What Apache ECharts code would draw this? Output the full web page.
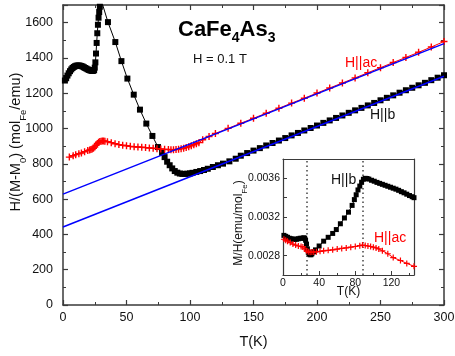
<!DOCTYPE html>
<html>
<head>
<meta charset="utf-8">
<script src="https://cdn.jsdelivr.net/npm/echarts@6/dist/echarts.min.js"></script>
<style>
  html, body { margin: 0; padding: 0; background: #fff; }
  #chart { width: 455px; height: 356px; }
</style>
</head>
<body>
<div id="chart"></div>
<script>
// main panel, H||b (black squares)
const hbMainT = [1.5, 2.5, 3.5, 4.5, 5.5, 6.5, 7.5, 8.5, 9.5, 10.5, 11.5, 12.5, 13.5, 14.5, 15.5, 16.5, 17.5, 18.5, 19.5, 20.5, 21.5, 22.5, 23.5, 24.5, 25, 25.5, 26, 26.5, 27, 27.5, 28, 28.5, 29, 29.5, 30,
  35.4, 41.2, 46, 50.7, 55.7, 60.6, 65.6, 70.4, 74.8, 78, 80, 82, 84, 86, 88, 90, 92, 94, 96, 98, 100, 102, 105, 108, 111, 114, 118, 122, 126, 131, 136,
  140, 145, 150, 155, 160, 165, 170, 175, 180, 185, 190, 195, 200, 205, 210, 215, 220, 225, 230, 235, 240, 245, 250, 255, 260, 265, 270, 275, 280, 285, 290, 295, 300];
const hbMainV = [1272, 1285, 1300, 1313, 1325, 1335, 1343, 1349, 1353, 1356, 1357, 1357, 1356, 1354, 1351, 1347, 1343, 1339, 1335, 1332, 1329, 1327, 1326, 1330, 1345, 1375, 1425, 1485, 1540, 1588, 1628, 1660, 1690, 1712, 1730,
  1603, 1490, 1382, 1283, 1192, 1107, 1028, 958, 895, 862, 838, 812, 792, 774, 759, 750, 745, 743, 743, 744, 746, 749, 754, 759, 765, 772, 782, 792, 801, 814, 829,
  846, 861, 875, 889, 904, 918, 932, 946, 961, 975, 989, 1003, 1017, 1032, 1046, 1060, 1074, 1089, 1103, 1117, 1131, 1145, 1160, 1174, 1188, 1203, 1217, 1231, 1245, 1259, 1274, 1288, 1302];

// main panel, H||ac (red crosses)
const acMainT = [5, 8, 10, 12.5, 14.5, 17, 19.5, 21, 22, 23, 24, 25, 26, 27, 28, 29, 30, 31, 32, 33, 35, 38, 41, 44, 47, 50, 53, 56, 59, 62, 65, 68, 71, 74, 77, 80, 83, 85, 87, 89, 91, 93, 95, 97, 99, 101, 103, 105, 107, 110, 115,
  120, 130, 140, 150, 160, 170, 180, 190, 200, 210, 220, 230, 240, 250, 260, 270, 280, 290, 300];
const acMainV = [838, 846, 852, 857, 861, 868, 875, 879, 881, 884, 888, 895, 905, 915, 922, 926, 928, 929, 929, 928, 925, 920, 914, 909, 905, 902, 899, 897, 895, 894, 892, 890, 888, 886, 884, 882, 881, 880, 880, 881, 883, 885, 888, 892, 897, 902, 908, 914, 920, 936, 955,
  972, 1001, 1030, 1058, 1087, 1115, 1144, 1172, 1201, 1230, 1258, 1287, 1316, 1345, 1374, 1403, 1432, 1462, 1493];

// Curie-Weiss fit lines (blue)
const fitT = [0, 300];
const fitB = [442, 1296];
const fitAc = [628, 1481];

// inset: M/H
const hbInT = [1, 3, 5, 7, 9, 11, 13, 15, 17, 19, 21, 23, 24, 25, 26, 27, 28, 29, 30, 31, 32, 34, 36,
  40, 45, 50, 55, 59, 63.5, 68, 72.5, 76.5, 79, 81, 83, 85, 87, 89, 91, 93, 95, 98, 101, 104, 107, 110, 113, 116, 119, 122, 125, 128, 131, 134, 137, 140, 143, 145];
const hbInV = [0.00301, 0.0030, 0.00299, 0.00298, 0.002975, 0.00297, 0.00297, 0.00297, 0.002975, 0.00298, 0.00298, 0.002985, 0.00298, 0.00296, 0.00292, 0.00287, 0.002835, 0.00282, 0.00281, 0.00281, 0.00282, 0.00284, 0.00286,
  0.00290, 0.00295, 0.00299, 0.00303, 0.00307, 0.00313, 0.00319, 0.00325, 0.00332, 0.00338, 0.00343, 0.00348, 0.00352, 0.00356, 0.00359, 0.0036, 0.003598, 0.003592, 0.00358, 0.00357, 0.003558, 0.003548, 0.003538, 0.003528, 0.003518, 0.003508, 0.003498, 0.003488, 0.003476, 0.003462, 0.00345, 0.003436, 0.003422, 0.00341, 0.0034];
const acInT = [1, 3, 5, 8, 11, 14, 17, 20, 22, 24, 26, 28, 30, 32, 34, 37, 41, 45, 50, 55, 60, 65, 70, 75, 80, 85, 88, 91, 94, 97, 100, 103, 106, 110, 116, 122, 130, 137, 145];
const acInV = [0.00297, 0.00296, 0.00295, 0.002935, 0.00292, 0.00291, 0.0029, 0.002895, 0.00289, 0.00287, 0.00285, 0.00284, 0.002835, 0.002838, 0.002838, 0.00284, 0.002845, 0.00285, 0.002855, 0.00286, 0.002868, 0.002875, 0.00288, 0.002888, 0.002895, 0.002903, 0.00291, 0.002905, 0.0029, 0.002895, 0.002888, 0.00288, 0.00287, 0.00285, 0.00282, 0.00278, 0.00275, 0.00272, 0.00269];
const transitionsT = [26, 88];

const font = 'Liberation Sans, Arial, sans-serif';
const axisCol = '#3a3a3a';
const plus = 'path://M4,0h2v4h4v2h-4v4h-2v-4h-4v-2h4z';

const zip = (xs, ys) => xs.map((x, i) => [x, ys[i]]);

function boxAxis(extra) {
  return Object.assign({
    type: 'value',
    axisLine: { onZero: false, lineStyle: { color: axisCol, width: 1.5 } },
    axisTick: { inside: true, length: 5, lineStyle: { color: axisCol, width: 1.2 } },
    minorTick: { show: true, splitNumber: 2, length: 3, lineStyle: { color: axisCol, width: 1 } },
    splitLine: { show: false },
    axisLabel: { show: false }
  }, extra);
}

// rotated y titles with subscripts (rich text)
function yTitle(x, y, text, size, subSize, lh, subLh) {
  return { type: 'text', x: x, y: y, rotation: Math.PI / 2, z: 10, style: {
    text: text, align: 'center', verticalAlign: 'middle',
    rich: {
      n: { fontSize: size, fontFamily: font, fill: '#111', lineHeight: lh, verticalAlign: 'top' },
      s: { fontSize: subSize, fontFamily: font, fill: '#111', lineHeight: subLh, verticalAlign: 'bottom' }
    } } };
}

const chart = echarts.init(document.getElementById('chart'));
const option = {
  animation: false,
  backgroundColor: '#fff',
  grid: [
    { left: 63, right: 11, top: 5, bottom: 51, containLabel: false, outerBoundsMode: 'none' },
    { left: 283, top: 159, width: 131, height: 116, containLabel: false, outerBoundsMode: 'none',
      show: true, backgroundColor: '#fff', borderWidth: 0, z: 5 }
  ],
  xAxis: [
    boxAxis({ gridIndex: 0, position: 'bottom', min: 0, max: 300, interval: 50,
      axisLabel: { show: true, fontSize: 12.5, color: '#111', fontFamily: font, margin: 6, formatter: v => String(v) },
      name: 'T(K)', nameLocation: 'middle', nameGap: 29, nameMoveOverlap: false,
      nameTextStyle: { fontSize: 14.5, color: '#111', fontFamily: font } }),
    boxAxis({ gridIndex: 0, position: 'top', min: 0, max: 300, interval: 50 }),
    boxAxis({ gridIndex: 1, position: 'bottom', min: 0, max: 145, interval: 40, z: 6,
      axisTick: { inside: true, length: 4, lineStyle: { color: axisCol, width: 1 } },
      minorTick: { show: true, splitNumber: 2, length: 2, lineStyle: { color: axisCol } },
      axisLine: { onZero: false, lineStyle: { color: axisCol, width: 1.2 } },
      axisLabel: { show: true, showMaxLabel: false, fontSize: 10.5, color: '#111', fontFamily: font, margin: 3, formatter: v => String(v) },
      name: 'T(K)', nameLocation: 'middle', nameGap: 11, nameMoveOverlap: false,
      nameTextStyle: { fontSize: 12, color: '#111', fontFamily: font } }),
    boxAxis({ gridIndex: 1, position: 'top', min: 0, max: 145, interval: 40, z: 6,
      axisTick: { show: false }, minorTick: { show: false },
      axisLine: { onZero: false, lineStyle: { color: axisCol, width: 1.2 } } })
  ],
  yAxis: [
    boxAxis({ gridIndex: 0, position: 'left', min: 0, max: 1700, interval: 200,
      axisLabel: { show: true, showMaxLabel: false, fontSize: 12.5, color: '#111', fontFamily: font, margin: 10, formatter: v => String(v) } }),
    boxAxis({ gridIndex: 0, position: 'right', min: 0, max: 1700, interval: 200 }),
    boxAxis({ gridIndex: 1, position: 'left', min: 0.0026, max: 0.0038, interval: 0.0002, z: 6,
      axisTick: { inside: true, length: 4, lineStyle: { color: axisCol, width: 1 } },
      minorTick: { show: false },
      axisLine: { onZero: false, lineStyle: { color: axisCol, width: 1.2 } },
      axisLabel: { show: true, fontSize: 10.5, color: '#111', fontFamily: font, margin: 3,
        formatter: v => (Math.round(v * 1e5) % 40 === 0 ? v.toFixed(4) : '') } }),
    boxAxis({ gridIndex: 1, position: 'right', min: 0.0026, max: 0.0038, interval: 0.0002, z: 6,
      axisTick: { show: false }, minorTick: { show: false },
      axisLine: { onZero: false, lineStyle: { color: axisCol, width: 1.2 } } })
  ],
  series: [
    { type: 'line', xAxisIndex: 0, yAxisIndex: 0, data: zip(hbMainT, hbMainV),
      symbol: 'rect', symbolSize: 6, itemStyle: { color: '#000' },
      lineStyle: { color: '#000', width: 1 } },
    { type: 'line', xAxisIndex: 0, yAxisIndex: 0, data: zip(acMainT, acMainV),
      symbol: plus, symbolSize: 7, itemStyle: { color: '#ff0000' },
      lineStyle: { color: '#ff0000', width: 1 } },
    { type: 'line', xAxisIndex: 0, yAxisIndex: 0, data: zip(fitT, fitB), showSymbol: false,
      lineStyle: { color: '#0000ff', width: 1.5 }, z: 4 },
    { type: 'line', xAxisIndex: 0, yAxisIndex: 0, data: zip(fitT, fitAc), showSymbol: false,
      lineStyle: { color: '#0000ff', width: 1.5 }, z: 4 },
    { type: 'line', xAxisIndex: 2, yAxisIndex: 2, data: zip(hbInT, hbInV), z: 7,
      symbol: 'rect', symbolSize: 5, itemStyle: { color: '#000' },
      lineStyle: { color: '#000', width: 1 },
      markLine: { silent: true, symbol: 'none', label: { show: false },
        lineStyle: { color: '#444', width: 1.5, type: [1.5, 3] },
        data: transitionsT.map(t => ({ xAxis: t })) } },
    { type: 'line', xAxisIndex: 2, yAxisIndex: 2, data: zip(acInT, acInV), z: 7,
      symbol: plus, symbolSize: 6, itemStyle: { color: '#ff0000' },
      lineStyle: { color: '#ff0000', width: 1 } }
  ],
  graphic: [
    yTitle(18.5, 142, '{n|H/(M-M}{s|0}{n|) (mol}{s|Fe}{n|/emu)}', 14.5, 9.5, 18, 19.5),
    yTitle(240.5, 223, '{n|M/H(emu/mol}{s|Fe}{n|)}', 12, 8, 15, 16.5),
    { type: 'text', left: 178, top: 19, z: 10, style: {
      text: '{b|CaFe}{s|4}{b|As}{s|3}',
      rich: {
        b: { fontSize: 22, fontWeight: 'bold', fontFamily: font, fill: '#000', lineHeight: 22, verticalAlign: 'top' },
        s: { fontSize: 14, fontWeight: 'bold', fontFamily: font, fill: '#000', lineHeight: 26, verticalAlign: 'bottom' }
      } } },
    { type: 'text', left: 193, top: 53, z: 10, style: { text: 'H = 0.1 T', fontSize: 13, fontFamily: font, fill: '#111' } },
    { type: 'text', left: 345, top: 56, z: 10, style: { text: 'H||ac', fontSize: 14, fontFamily: font, fill: '#ff0000' } },
    { type: 'text', left: 370, top: 108, z: 10, style: { text: 'H||b', fontSize: 14, fontFamily: font, fill: '#111' } },
    { type: 'text', left: 331, top: 173, z: 10, style: { text: 'H||b', fontSize: 14, fontFamily: font, fill: '#111' } },
    { type: 'text', left: 374, top: 231, z: 10, style: { text: 'H||ac', fontSize: 14, fontFamily: font, fill: '#ff0000' } }
  ]
};
chart.setOption(option);
</script>
</body>
</html>
